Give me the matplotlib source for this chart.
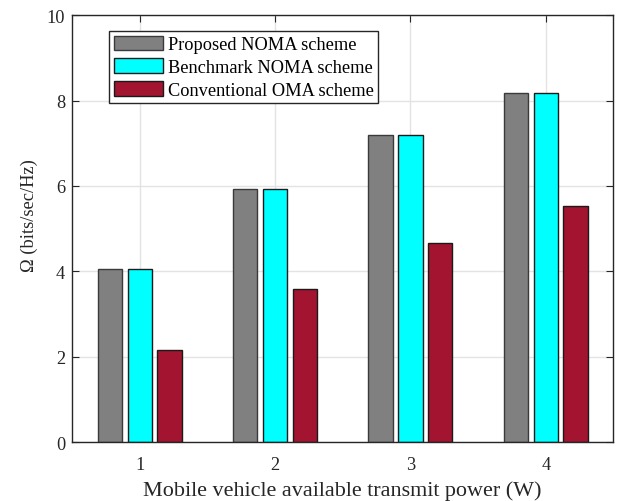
import matplotlib
matplotlib.use("Agg")
import matplotlib.pyplot as plt
import numpy as np

# Sum rate versus available transmit power of the mobile vehicle
powers = [1, 2, 3, 4]
proposed_noma = [4.05, 5.92, 7.19, 8.18]
benchmark_noma = [4.05, 5.92, 7.19, 8.18]
conventional_oma = [2.16, 3.59, 4.67, 5.53]
series_labels = ["Proposed NOMA scheme", "Benchmark NOMA scheme", "Conventional OMA scheme"]
y_ticks = [0, 2, 4, 6, 8, 10]

plt.rcParams["font.family"] = ["Liberation Serif", "DejaVu Serif"]

fig = plt.figure(figsize=(6.22, 5.02), dpi=100)
ax = fig.add_axes([0.1158, 0.1169, 0.8705, 0.8511])

x = np.array(powers, dtype=float)
offset = 0.22
width = 0.18
colors = ["#808080", "#00FFFF", "#A2142F"]
edges = ["#3a3a3a", "#1a1a1a", "#1a1a1a"]
for i, (vals, lab) in enumerate(zip([proposed_noma, benchmark_noma, conventional_oma], series_labels)):
    ax.bar(x + (i - 1) * offset, vals, width, color=colors[i], edgecolor=edges[i],
           linewidth=1.0, label=lab, zorder=3)

ax.set_xlim(0.5, 4.5)
ax.set_ylim(0, 10)
ax.set_xticks(powers)
ax.set_yticks(y_ticks)
ax.grid(True, color="#e3e3e3", linewidth=1.0, zorder=0)
ax.set_axisbelow(True)
ax.tick_params(direction="in", length=5, width=0.8, top=True, right=True,
               labelsize=13.2, colors="#262626")
ax.tick_params(axis="x", pad=9.5)
ax.tick_params(axis="y", pad=5)
for sp in ax.spines.values():
    sp.set_color("#262626")
    sp.set_linewidth(1.0)
    sp.set_zorder(4)

ax.set_xlabel("Mobile vehicle available transmit power (W)", fontsize=15.9, color="#262626")
ax.set_ylabel("Ω (bits/sec/Hz)", fontsize=13.2, color="#262626")
ax.xaxis.set_label_coords(0.4995, -0.088)
ax.yaxis.set_label_coords(-0.0628, 0.532)

leg = fig.legend(loc="upper left", bbox_to_anchor=(109 / 622, (502 - 32) / 502),
                 bbox_transform=fig.transFigure, fontsize=13.2, frameon=True,
                 fancybox=False, borderpad=0.25, handlelength=2.7, handleheight=0.85,
                 handletextpad=0.25, labelspacing=0.28, borderaxespad=0)
leg.get_frame().set_edgecolor("#262626")
leg.get_frame().set_linewidth(1.0)
leg.get_frame().set_alpha(1)

fig.savefig("out.png", dpi=100)
